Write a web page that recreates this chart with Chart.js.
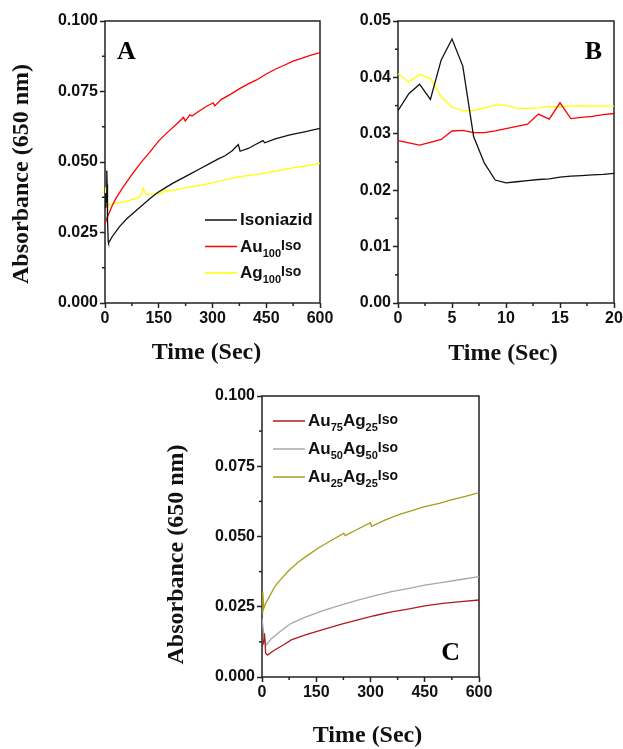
<!DOCTYPE html>
<html>
<head>
<meta charset="utf-8">
<title>Absorbance kinetics</title>
<script src="https://cdn.jsdelivr.net/npm/chart.js@4.4.1/dist/chart.umd.min.js"></script>
<style>
  body { margin: 0; background: #fff; width: 623px; height: 749px; position: relative; overflow: hidden; }
  canvas { position: absolute; }
</style>
</head>
<body>
<canvas id="chart-a" width="340" height="372" style="left:0;top:0"></canvas>
<canvas id="chart-b" width="283" height="372" style="left:340px;top:0"></canvas>
<canvas id="chart-c" width="340" height="380" style="left:160px;top:380px"></canvas>
<script>
// ---- Panel A: 0-600 s ----
const aIsoT = [0, 2, 3, 5, 6, 7, 9, 10, 20, 40, 60, 80, 100, 125, 144, 170, 191, 215, 237, 265, 293, 315, 335, 355, 372, 377, 400, 420, 441, 446, 475, 516, 560, 600];
const aIsoV = [0.034, 0.039, 0.036, 0.047, 0.042, 0.0295, 0.0218, 0.0213, 0.0235, 0.027, 0.0298, 0.032, 0.0342, 0.037, 0.0389, 0.041, 0.0426, 0.0442, 0.0457, 0.0476, 0.0495, 0.051, 0.0522, 0.054, 0.0562, 0.0538, 0.0548, 0.0562, 0.0576, 0.0568, 0.0582, 0.0596, 0.0608, 0.0619];

const aAuT = [0, 5, 10, 20, 30, 50, 75, 100, 125, 150, 175, 200, 219, 224, 237, 243, 260, 280, 302, 306, 325, 350, 377, 400, 423, 450, 475, 500, 525, 550, 575, 600];
const aAuV = [0.028, 0.030, 0.0315, 0.0345, 0.037, 0.041, 0.0455, 0.0498, 0.0535, 0.0575, 0.0606, 0.0635, 0.0658, 0.0645, 0.0667, 0.0663, 0.0678, 0.0695, 0.071, 0.0699, 0.0722, 0.074, 0.0761, 0.0777, 0.0791, 0.0812, 0.0829, 0.0843, 0.0858, 0.0868, 0.0879, 0.0888];

const aAgT = [0, 1, 2, 3, 4, 5, 7, 10, 15, 20, 30, 50, 70, 93, 100, 107, 114, 125, 144, 160, 167, 173, 200, 237, 270, 302, 340, 377, 420, 470, 520, 560, 600];
const aAgV = [0.041, 0.039, 0.0405, 0.0398, 0.0366, 0.0347, 0.0341, 0.0351, 0.0348, 0.0349, 0.0355, 0.0358, 0.0365, 0.0373, 0.0385, 0.0407, 0.0386, 0.0385, 0.0388, 0.039, 0.0405, 0.0395, 0.0402, 0.0412, 0.0418, 0.0427, 0.0438, 0.0448, 0.0455, 0.0466, 0.0478, 0.0486, 0.0495];

// ---- Panel B: first 20 s ----
const bTime = [0, 1, 2, 3, 4, 5, 6, 7, 8, 9, 10, 11, 12, 13, 14, 15, 16, 17, 18, 19, 20];
const bIsoV = [0.0341, 0.0371, 0.0388, 0.0361, 0.0431, 0.0468, 0.042, 0.0295, 0.0248, 0.0218, 0.0213, 0.0215, 0.0217, 0.0219, 0.022, 0.0223, 0.0225, 0.0226, 0.0227, 0.0228, 0.023];
const bAuV  = [0.0288, 0.0284, 0.028, 0.0285, 0.029, 0.0305, 0.0306, 0.0302, 0.0302, 0.0305, 0.0309, 0.0313, 0.0317, 0.0335, 0.0326, 0.0355, 0.0327, 0.0329, 0.0331, 0.0334, 0.0336];
const bAgV  = [0.0407, 0.0392, 0.0405, 0.0398, 0.0366, 0.0347, 0.0341, 0.0341, 0.0346, 0.0351, 0.0351, 0.0345, 0.0345, 0.0346, 0.0348, 0.0348, 0.0349, 0.035, 0.0349, 0.0349, 0.0349];

// ---- Panel C: alloys, 0-600 s ----
const c75T = [0, 4, 7, 10, 15, 35, 60, 81, 120, 173, 220, 265, 310, 358, 400, 450, 500, 550, 600];
const c75V = [0.011, 0.012, 0.0155, 0.0085, 0.0078, 0.0096, 0.0115, 0.0132, 0.015, 0.017, 0.0188, 0.0203, 0.0218, 0.0232, 0.0241, 0.0253, 0.0262, 0.0268, 0.0274];

const c50T = [0, 5, 10, 12, 25, 50, 81, 120, 173, 220, 265, 310, 358, 400, 450, 500, 550, 600];
const c50V = [0.021, 0.015, 0.012, 0.0114, 0.0135, 0.0162, 0.0191, 0.0213, 0.0238, 0.0257, 0.0274, 0.0289, 0.0304, 0.0314, 0.0327, 0.0337, 0.0347, 0.0357];

const c25T = [0, 2, 5, 10, 20, 35, 50, 75, 100, 125, 155, 190, 226, 230, 260, 300, 303, 340, 376, 410, 450, 490, 523, 560, 600];
const c25V = [0.0227, 0.0304, 0.0244, 0.0262, 0.0285, 0.0321, 0.0345, 0.038, 0.0408, 0.0432, 0.0458, 0.0485, 0.0511, 0.0503, 0.0523, 0.0549, 0.0536, 0.0558, 0.0577, 0.059, 0.0606, 0.0618, 0.063, 0.0642, 0.0656];

// legend labels: [text, style] pieces so subscripts can be drawn
const aLabels = [
  [['Isoniazid', 'n']],
  [['Au', 'n'], ['100', 'sub'], ['Iso', 'iso']],
  [['Ag', 'n'], ['100', 'sub'], ['Iso', 'iso']],
];
const cLabels = [
  [['Au', 'n'], ['75', 'sub'], ['Ag', 'n'], ['25', 'sub'], ['Iso', 'iso']],
  [['Au', 'n'], ['50', 'sub'], ['Ag', 'n'], ['50', 'sub'], ['Iso', 'iso']],
  [['Au', 'n'], ['25', 'sub'], ['Ag', 'n'], ['25', 'sub'], ['Iso', 'iso']],
];

const AXIS = '#222';
const TICK_FONT  = { family: '"Liberation Sans", Arial, sans-serif', size: 16, weight: 'bold', lineHeight: 1.2 };
const TITLE_FONT = { family: '"Liberation Serif", "Times New Roman", serif', size: 24, weight: 'bold', lineHeight: 1.2 };
const LEG_FONT = {
  n:   'bold 17px "Liberation Sans", Arial, sans-serif',
  sub: 'bold 11px "Liberation Sans", Arial, sans-serif',
  iso: 'bold 14px "Liberation Sans", Arial, sans-serif',
};
const LEG_SHIFT = { n: 0, sub: 5, iso: -2 };

const toPts = (ts, vs) => ts.map((t, i) => ({ x: t, y: vs[i] }));

// frame box, minor ticks, panel letter, legend with subscripts
const panelDeco = {
  id: 'panelDeco',
  beforeDatasetsDraw(chart) {
    const { ctx, chartArea: a } = chart;
    ctx.save();
    ctx.strokeStyle = AXIS;
    ctx.lineWidth = 1.5;
    ctx.strokeRect(a.left, a.top, a.right - a.left, a.bottom - a.top);
    // minor ticks halfway between the major ones
    ['x', 'y'].forEach(id => {
      const sc = chart.scales[id];
      const tk = sc.ticks;
      for (let i = 0; i < tk.length - 1; i++) {
        const p = sc.getPixelForValue((tk[i].value + tk[i + 1].value) / 2);
        ctx.beginPath();
        if (id === 'x') { ctx.moveTo(p, a.bottom); ctx.lineTo(p, a.bottom + 3); }
        else { ctx.moveTo(a.left, p); ctx.lineTo(a.left - 3, p); }
        ctx.stroke();
      }
    });
    ctx.restore();
  },
  afterDraw(chart, args, opts) {
    const { ctx, chartArea: a } = chart;
    ctx.save();
    if (opts.letter) {
      const L = opts.letter;
      ctx.font = 'bold 26px "Liberation Serif", "Times New Roman", serif';
      ctx.fillStyle = '#000';
      ctx.textAlign = L.align;
      ctx.textBaseline = 'alphabetic';
      ctx.fillText(L.text, L.align === 'left' ? a.left + L.dx : a.right - L.dx, a.top + L.dy);
    }
    if (opts.legend) {
      const lg = opts.legend;
      ctx.textAlign = 'left';
      ctx.textBaseline = 'alphabetic';
      lg.labels.forEach((parts, i) => {
        const y = a.top + lg.dy + i * lg.gap;
        const x0 = a.left + lg.dx;
        ctx.strokeStyle = lg.colors[i];
        ctx.lineWidth = 1.5;
        ctx.beginPath();
        ctx.moveTo(x0, y);
        ctx.lineTo(x0 + 32, y);
        ctx.stroke();
        let x = x0 + 35;
        ctx.fillStyle = '#111';
        parts.forEach(([txt, kind]) => {
          ctx.font = LEG_FONT[kind];
          ctx.fillText(txt, x, y + 5 + LEG_SHIFT[kind]);
          x += ctx.measureText(txt).width;
        });
      });
    }
    ctx.restore();
  }
};

function makeAxis(min, max, step, fmt, fixedSize, horizontal, title) {
  return {
    type: 'linear', min, max,
    ticks: {
      stepSize: step, autoSkip: false, maxRotation: 0,
      font: TICK_FONT, color: '#111', padding: horizontal ? 1 : 2,
      callback: v => fmt(v),
    },
    grid: { drawOnChartArea: false, drawTicks: true, tickLength: 5, tickColor: AXIS, tickWidth: 1.5 },
    border: { display: false },
    title: title ? { display: true, text: title.text, font: TITLE_FONT, color: '#111', padding: title.padding } : { display: false },
    afterFit(s) {
      if (horizontal) s.height = fixedSize; else s.width = fixedSize;
      s.paddingLeft = s.paddingRight = s.paddingTop = s.paddingBottom = 0;
    },
  };
}

function buildChart(id, series, pad, xAxis, yAxis, deco) {
  return new Chart(document.getElementById(id), {
    type: 'line',
    data: {
      datasets: series.map(s => ({
        data: toPts(s.t, s.v),
        borderColor: s.color,
        borderWidth: 1.3,
        pointRadius: 0,
        tension: 0,
        fill: false,
      })),
    },
    options: {
      responsive: false,
      animation: false,
      events: [],
      layout: { padding: pad },
      plugins: { legend: { display: false }, tooltip: { enabled: false }, panelDeco: deco },
      scales: { x: xAxis, y: yAxis },
    },
    plugins: [panelDeco],
  });
}

const YTITLE = 'Absorbance (650 nm)';

buildChart('chart-a',
  [
    { t: aIsoT, v: aIsoV, color: '#111111' },
    { t: aAuT,  v: aAuV,  color: '#ff0000' },
    { t: aAgT,  v: aAgV,  color: '#ffff00' },
  ],
  { left: 0, top: 21, right: 20, bottom: 0 },
  makeAxis(0, 600, 150, v => String(v), 69, true, { text: 'Time (Sec)  ', padding: { top: 0, bottom: 5 } }),
  makeAxis(0, 0.1, 0.025, v => v.toFixed(3), 105, false, { text: YTITLE + '    ', padding: { top: 7, bottom: 0 } }),
  { letter: { text: 'A', align: 'left', dx: 12, dy: 38 },
    legend: { dx: 100, dy: 199, gap: 26.5, labels: aLabels, colors: ['#111111', '#ff0000', '#ffff00'] } }
);

buildChart('chart-b',
  [
    { t: bTime, v: bIsoV, color: '#111111' },
    { t: bTime, v: bAuV,  color: '#ff0000' },
    { t: bTime, v: bAgV,  color: '#ffff00' },
  ],
  { left: 0, top: 21, right: 9, bottom: 0 },
  makeAxis(0, 20, 5, v => String(v), 69, true, { text: 'Time (Sec) ', padding: { top: 0, bottom: 4 } }),
  makeAxis(0, 0.05, 0.01, v => v.toFixed(2), 58, false, null),
  { letter: { text: 'B', align: 'right', dx: 12, dy: 38 } }
);

buildChart('chart-c',
  [
    { t: c75T, v: c75V, color: '#ad1c1c' },
    { t: c50T, v: c50V, color: '#a8a8a8' },
    { t: c25T, v: c25V, color: '#a49e1c' },
  ],
  { left: 0, top: 16, right: 21, bottom: 0 },
  makeAxis(0, 600, 150, v => String(v), 83, true, { text: 'Time (Sec) ', padding: { top: 0, bottom: 10 } }),
  makeAxis(0, 0.1, 0.025, v => v.toFixed(3), 102, false, { text: YTITLE + '      ', padding: { top: 2, bottom: 0 } }),
  { letter: { text: 'C', align: 'right', dx: 19, dy: 264 },
    legend: { dx: 11, dy: 25, gap: 28, labels: cLabels, colors: ['#ad1c1c', '#a8a8a8', '#a49e1c'] } }
);
</script>
</body>
</html>
